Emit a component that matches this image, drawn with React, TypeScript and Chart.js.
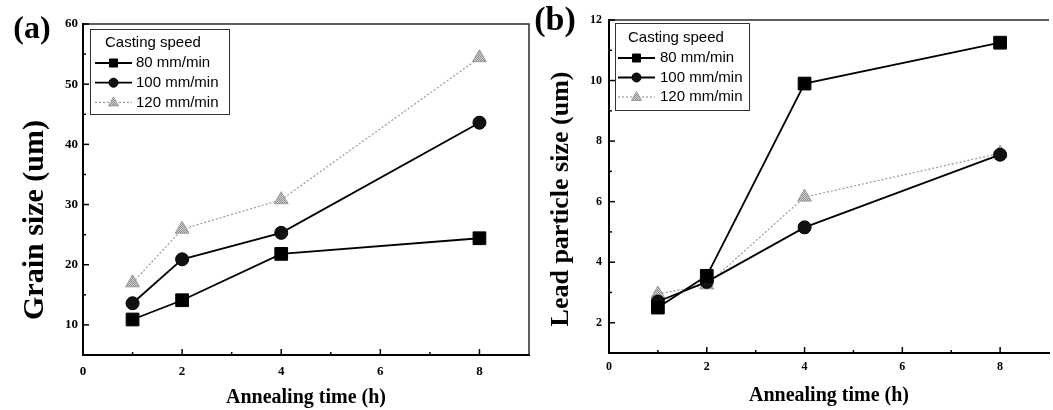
import React, { useEffect, useRef } from 'react';
import { Chart, registerables } from 'chart.js';

Chart.register(...registerables);

// ---------- data ----------
const hours = [1, 2, 4, 8];
const seriesLabels = ['80 mm/min', '100 mm/min', '120 mm/min'];
const legendTitle = 'Casting speed';

const grain80 = [10.9, 14.1, 21.8, 24.4];
const grain100 = [13.6, 20.9, 25.3, 43.6];
const grain120 = [17.0, 25.9, 30.8, 54.4];

const lead80 = [2.5, 3.55, 9.9, 11.25];
const lead100 = [2.7, 3.35, 5.15, 7.55];
const lead120 = [2.95, 3.25, 6.15, 7.6];

const xTicks = [0, 2, 4, 6, 8];
const xMinorTicks = [1, 3, 5, 7];
const grainTicks = [10, 20, 30, 40, 50, 60];
const grainMinorTicks = [15, 25, 35, 45, 55];
const leadTicks = [2, 4, 6, 8, 10, 12];
const leadMinorTicks = [3, 5, 7, 9, 11];

const xTitle = 'Annealing time (h)';
const grainTitle = 'Grain size (um)';
const leadTitle = 'Lead particle size (um)';

const SERIF = '"Liberation Serif", "Times New Roman", serif';
const SANS = '"Liberation Sans", Arial, sans-serif';

const decorPlugin = {
  id: 'decor',
  afterDraw(chart: any, _args: any, opts: any) {
    const { ctx, chartArea } = chart;
    const xs = chart.scales.x;
    const ys = chart.scales.y;
    ctx.save();
    // top and right frame
    ctx.strokeStyle = '#2a2a2a';
    ctx.lineWidth = 1.5;
    ctx.setLineDash([]);
    ctx.beginPath();
    ctx.moveTo(chartArea.left, chartArea.top);
    ctx.lineTo(chartArea.right, chartArea.top);
    if (opts.rightFrame) ctx.lineTo(chartArea.right, chartArea.bottom);
    ctx.stroke();
    // inward ticks
    ctx.strokeStyle = '#000';
    ctx.lineWidth = 1.5;
    const tickX = (vals: number[], len: number) => {
      vals.forEach((v) => {
        const px = xs.getPixelForValue(v);
        ctx.beginPath();
        ctx.moveTo(px, chartArea.bottom);
        ctx.lineTo(px, chartArea.bottom - len);
        ctx.stroke();
      });
    };
    const tickY = (vals: number[], len: number) => {
      vals.forEach((v) => {
        const py = ys.getPixelForValue(v);
        ctx.beginPath();
        ctx.moveTo(chartArea.left, py);
        ctx.lineTo(chartArea.left + len, py);
        ctx.stroke();
      });
    };
    tickX(opts.xMajor, 6);
    tickX(opts.xMinor, 3);
    tickY(opts.yMajor, 6);
    tickY(opts.yMinor, 3);

    // y title
    ctx.fillStyle = '#000';
    ctx.font = `bold ${opts.yTitleSize}px ${SERIF}`;
    ctx.textAlign = 'center';
    ctx.textBaseline = 'middle';
    ctx.save();
    ctx.translate(opts.yTitleX, opts.yTitleY);
    ctx.rotate(-Math.PI / 2);
    ctx.fillText(opts.yTitle, 0, 0);
    ctx.restore();

    // panel label
    ctx.font = `bold ${opts.panelSize}px ${SERIF}`;
    ctx.fillText(opts.panel, opts.panelX, opts.panelY);

    // legend
    const lg = opts.legend;
    ctx.fillStyle = '#fff';
    ctx.fillRect(lg.x, lg.y, lg.w, lg.h);
    ctx.strokeStyle = '#333';
    ctx.lineWidth = 1;
    ctx.setLineDash([]);
    ctx.strokeRect(lg.x + 0.5, lg.y + 0.5, lg.w, lg.h);
    ctx.fillStyle = '#000';
    ctx.font = `15px ${SANS}`;
    ctx.textAlign = 'left';
    ctx.fillText(opts.legendTitle, lg.titleX, lg.titleY);
    chart.data.datasets.forEach((ds: any, i: number) => {
      const y = lg.row0 + i * lg.step;
      ctx.strokeStyle = ds.borderColor;
      ctx.lineWidth = ds.borderWidth;
      ctx.setLineDash(ds.borderDash || []);
      ctx.beginPath();
      ctx.moveTo(lg.line0, y);
      ctx.lineTo(lg.line1, y);
      ctx.stroke();
      ctx.setLineDash([]);
      const mx = (lg.line0 + lg.line1) / 2;
      ctx.fillStyle = ds.pointBackgroundColor;
      ctx.strokeStyle = ds.pointBorderColor;
      ctx.lineWidth = 1;
      ctx.beginPath();
      if (ds.pointStyle === 'rect') {
        ctx.rect(mx - 4, y - 4, 8, 8);
      } else if (ds.pointStyle === 'circle') {
        ctx.arc(mx, y, 4.5, 0, Math.PI * 2);
      } else {
        ctx.moveTo(mx, y - 5.5);
        ctx.lineTo(mx + 5, y + 3.5);
        ctx.lineTo(mx - 5, y + 3.5);
        ctx.closePath();
      }
      ctx.fill();
      ctx.stroke();
      ctx.fillStyle = '#000';
      ctx.font = `15px ${SANS}`;
      ctx.fillText(ds.label, lg.text, y);
    });
    ctx.restore();
  },
};

function makePattern(): any {
  const pc = document.createElement('canvas');
  pc.width = 2;
  pc.height = 2;
  const p = pc.getContext('2d')!;
  p.fillStyle = '#d6d6d6';
  p.fillRect(0, 0, 2, 2);
  p.fillStyle = '#8a8a8a';
  p.fillRect(0, 0, 1, 1);
  p.fillRect(1, 1, 1, 1);
  return p.createPattern(pc, 'repeat');
}

function buildConfig(p: any) {
  const pattern = makePattern();
  const pts = (arr: number[]) => hours.map((h, i) => ({ x: h, y: arr[i] }));
  const tickFont = { family: SERIF, weight: 'bold' as const, size: p.tickSize };
  return {
    type: 'line' as const,
    data: {
      datasets: [
        {
          label: seriesLabels[0],
          data: pts(p.s80),
          borderColor: '#000',
          borderWidth: 1.8,
          pointStyle: 'rect',
          pointRadius: 9,
          pointBackgroundColor: '#000',
          pointBorderColor: '#000',
          pointBorderWidth: 1,
        },
        {
          label: seriesLabels[1],
          data: pts(p.s100),
          borderColor: '#000',
          borderWidth: 1.8,
          pointStyle: 'circle',
          pointRadius: 6.5,
          pointBackgroundColor: '#111',
          pointBorderColor: '#000',
          pointBorderWidth: 1,
        },
        {
          label: seriesLabels[2],
          data: pts(p.s120),
          borderColor: '#9a9a9a',
          borderWidth: 1.2,
          borderDash: [2, 2],
          pointStyle: 'triangle',
          pointRadius: 8,
          pointBackgroundColor: pattern,
          pointBorderColor: '#9a9a9a',
          pointBorderWidth: 1,
        },
      ],
    },
    options: {
      responsive: false,
      animation: false,
      layout: { padding: { left: 0, top: p.padTop, right: p.padRight, bottom: 0 } },
      plugins: {
        legend: { display: false },
        tooltip: { enabled: false },
        decor: p.decor,
      },
      scales: {
        x: {
          type: 'linear',
          min: 0,
          max: 9,
          afterBuildTicks: (s: any) => {
            s.ticks = xTicks.map((v) => ({ value: v }));
          },
          afterFit: (s: any) => {
            s.height = p.xAxisH;
          },
          grid: { display: false, drawTicks: false },
          border: { display: true, color: '#000', width: 2 },
          ticks: { font: tickFont, color: '#000', padding: p.xTickPad, maxRotation: 0 },
          title: {
            display: true,
            text: xTitle,
            color: '#000',
            font: { family: SERIF, weight: 'bold', size: 20 },
            padding: { top: 0, bottom: p.xTitlePadB },
          },
        },
        y: {
          type: 'linear',
          min: p.yMin,
          max: p.yMax,
          afterBuildTicks: (s: any) => {
            s.ticks = p.yTicks.map((v: number) => ({ value: v }));
          },
          afterFit: (s: any) => {
            s.width = p.yAxisW;
          },
          grid: { display: false, drawTicks: false },
          border: { display: true, color: '#000', width: 2 },
          ticks: { font: tickFont, color: '#000', padding: p.yTickPad },
        },
      },
    },
    plugins: [decorPlugin],
  };
}

function Panel(props: { left: number; width: number; params: any }) {
  const ref = useRef<HTMLCanvasElement | null>(null);
  useEffect(() => {
    if (!ref.current) return;
    const chart = new Chart(ref.current, buildConfig(props.params) as any);
    return () => chart.destroy();
  }, []);
  return (
    <div style={{ position: 'absolute', left: props.left, top: 0, width: props.width, height: 410 }}>
      <canvas ref={ref} width={props.width} height={410} style={{ display: 'block' }} />
    </div>
  );
}

const paramsA = {
  s80: grain80,
  s100: grain100,
  s120: grain120,
  yMin: 5,
  yMax: 60,
  yTicks: grainTicks,
  padTop: 24,
  padRight: 6,
  yAxisW: 83,
  xAxisH: 55,
  xTickPad: 9,
  yTickPad: 5,
  xTitlePadB: 0,
  tickSize: 13,
  decor: {
    rightFrame: true,
    xMajor: xTicks,
    xMinor: xMinorTicks,
    yMajor: grainTicks,
    yMinor: grainMinorTicks,
    yTitle: grainTitle,
    yTitleX: 35,
    yTitleY: 220,
    yTitleSize: 30,
    panel: '(a)',
    panelX: 32,
    panelY: 30,
    panelSize: 32,
    legendTitle,
    legend: { x: 90, y: 29, w: 139, h: 85, titleX: 105, titleY: 43, row0: 63, step: 19.7, line0: 95, line1: 132, text: 136 },
  },
};

const paramsB = {
  s80: lead80,
  s100: lead100,
  s120: lead120,
  yMin: 1,
  yMax: 12,
  yTicks: leadTicks,
  padTop: 20,
  padRight: 4,
  yAxisW: 89,
  xAxisH: 57,
  xTickPad: 7,
  yTickPad: 7,
  xTitlePadB: 2,
  tickSize: 12,
  decor: {
    rightFrame: false,
    xMajor: xTicks,
    xMinor: xMinorTicks,
    yMajor: leadTicks,
    yMinor: leadMinorTicks,
    yTitle: leadTitle,
    yTitleX: 41,
    yTitleY: 199,
    yTitleSize: 26,
    panel: '(b)',
    panelX: 35,
    panelY: 21,
    panelSize: 34,
    legendTitle,
    legend: { x: 95, y: 23, w: 134, h: 87, titleX: 108, titleY: 38, row0: 58, step: 19.5, line0: 98, line1: 135, text: 140 },
  },
};

export default function App() {
  return (
    <div style={{ position: 'absolute', left: 0, top: 0, width: 1053, height: 410, background: '#fff', overflow: 'hidden' }}>
      <Panel left={0} width={539} params={paramsA} />
      <Panel left={520} width={539} params={paramsB} />
    </div>
  );
}
